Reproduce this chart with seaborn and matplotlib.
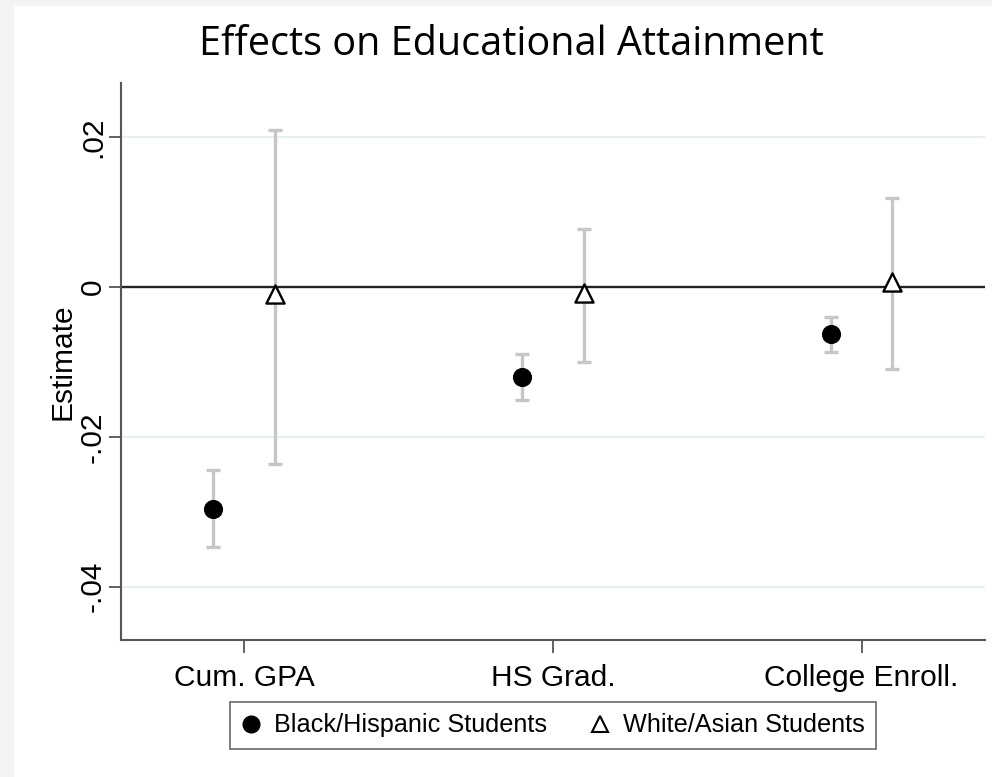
import numpy as np
import pandas as pd
import matplotlib
matplotlib.use('Agg')
import matplotlib.pyplot as plt
from matplotlib.lines import Line2D
import seaborn as sns

outcomes = ['Cum. GPA', 'HS Grad.', 'College Enroll.']
groups = ['Black/Hispanic Students', 'White/Asian Students']

est_black = [-0.0296, -0.0120, -0.0063]
lo_black = [-0.0347, -0.0151, -0.0087]
hi_black = [-0.0244, -0.0089, -0.0040]

est_white = [-0.0010, -0.0008, 0.0007]
lo_white = [-0.0236, -0.0100, -0.0110]
hi_white = [0.0209, 0.0077, 0.0119]

ytick_vals = [-0.04, -0.02, 0, 0.02]
ytick_labels = ['-.04', '-.02', '0', '.02']

pos = np.arange(1, len(outcomes) + 1)
offset = {groups[0]: -0.1, groups[1]: 0.1}

df = pd.DataFrame({
    'outcome': outcomes * 2,
    'group': [groups[0]] * 3 + [groups[1]] * 3,
    'est': est_black + est_white,
    'lo': lo_black + lo_white,
    'hi': hi_black + hi_white,
})
df['x'] = np.tile(pos, 2) + df['group'].map(offset)

sns.set_style('white', {'text.color': 'black', 'xtick.color': 'black',
                        'ytick.color': 'black', 'axes.labelcolor': 'black'})
plt.rcParams['font.family'] = ['Liberation Sans', 'DejaVu Sans']

fig = plt.figure(figsize=(9.92, 7.77), dpi=100, facecolor='#f4f4f4')
fig.patches.append(plt.Rectangle((14 / 992, 0), 1, 1 - 6 / 777, transform=fig.transFigure,
                                 facecolor='white', edgecolor='none', zorder=-5))
ax = fig.add_axes([0.1217, 0.1763, 0.993 - 0.1217, 0.8932 - 0.1763])
ax.set_zorder(2)
ax.set_facecolor('white')

for y in ytick_vals:
    ax.axhline(y, color='#e6f0f2', lw=1.4, zorder=1)
ax.axhline(0, color='#222222', lw=1.7, zorder=2)

ax.errorbar(df['x'], df['est'], yerr=[df['est'] - df['lo'], df['hi'] - df['est']],
            fmt='none', ecolor='#c6c6c6', elinewidth=2.4, capsize=5, capthick=2.4, zorder=3)

black = df[df['group'] == groups[0]]
white = df[df['group'] == groups[1]]
sns.scatterplot(data=black, x='x', y='est', ax=ax, marker='o', s=190, color='black',
                edgecolor='black', linewidth=0, zorder=4, legend=False)
sns.scatterplot(data=white, x='x', y='est', ax=ax, marker='^', s=170, facecolor='white',
                edgecolor='black', linewidth=1.7, zorder=4, legend=False)

ax.set_xlim(0.6, 3.4)
ax.set_ylim(-0.0471, 0.0272)
ax.set_xticks(pos)
ax.set_xticklabels(outcomes, fontsize=21.5)
ax.set_yticks(ytick_vals)
ax.set_yticklabels(ytick_labels, fontsize=21.5, rotation=90, va='center')
ax.tick_params(axis='both', bottom=True, left=True, direction='out', length=9,
               width=1.3, color='#555555', labelcolor='black')
ax.tick_params(axis='x', pad=8)
ax.tick_params(axis='y', pad=1)
ax.set_xlabel('')
ax.set_ylabel('Estimate', fontsize=21.5, labelpad=2, color='black')

for s in ['top', 'right']:
    ax.spines[s].set_visible(False)
for s in ['left', 'bottom']:
    ax.spines[s].set_color('#555555')
    ax.spines[s].set_linewidth(1.5)

fig.text(0.516, 0.942, 'Effects on Educational Attainment', ha='center', va='center',
         fontsize=28.5, color='black', family=['Open Sans', 'DejaVu Sans'])

handles = [
    Line2D([], [], marker='o', color='black', linestyle='none', markersize=12),
    Line2D([], [], marker='^', markerfacecolor='white', markeredgecolor='black',
           markeredgewidth=1.5, linestyle='none', markersize=11),
]
leg = fig.legend(handles, groups, loc='center', bbox_to_anchor=(0.5575, 0.0663), ncol=2,
                 fontsize=18.2, frameon=True, fancybox=False, edgecolor='#444444',
                 handletextpad=0.5, columnspacing=1.7, borderpad=0.45, handlelength=0.8)
leg.get_frame().set_linewidth(1.2)
for t in leg.get_texts():
    t.set_color('black')

fig.savefig('out.png', dpi=100, facecolor=fig.get_facecolor())
